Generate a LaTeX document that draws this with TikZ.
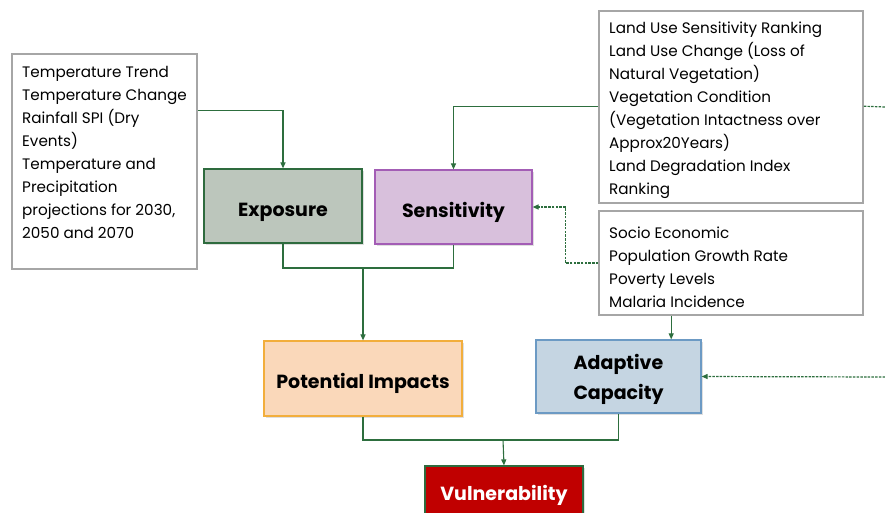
\documentclass[tikz,border=0pt]{standalone}
\usepackage{fontspec}
\setmainfont{Poppins}
\usetikzlibrary{arrows.meta,shadows}
\definecolor{lnk}{HTML}{2D6E3E}
\definecolor{boxgray}{HTML}{A6A6A6}
\definecolor{expfill}{HTML}{BCC6BC}
\definecolor{expdraw}{HTML}{2E6B3E}
\definecolor{sensfill}{HTML}{D8C0DC}
\definecolor{sensdraw}{HTML}{A35DB5}
\definecolor{potfill}{HTML}{FAD8BA}
\definecolor{potdraw}{HTML}{F2AE3C}
\definecolor{adapfill}{HTML}{C5D5E2}
\definecolor{adapdraw}{HTML}{6C9AC4}
\definecolor{vulfill}{HTML}{C00000}
\begin{document}
\begin{tikzpicture}[x=1pt,y=-1pt,
  infobox/.style={draw=boxgray, line width=1.6pt, fill=white, inner sep=0pt},
  infotext/.style={font=\fontsize{15.2}{23}\selectfont, align=left, anchor=north west, inner sep=0pt},
  keybox/.style={line width=1.2pt, font=\bfseries\fontsize{19}{30}\selectfont, align=center,
    drop shadow={opacity=0.25, shadow xshift=2pt, shadow yshift=-2pt}},
  oneline/.style={text height=20pt, text depth=0pt},
  link/.style={draw=lnk, line width=1.1pt, -{Triangle[length=6pt,width=5pt]}},
  plainlink/.style={draw=lnk, line width=1.1pt},
  dlink/.style={draw=lnk, line width=1.2pt, dash pattern=on 2.5pt off 1.2pt, -{Triangle[length=6pt,width=5pt]}},
  dplain/.style={draw=lnk, line width=1.2pt, dash pattern=on 2.5pt off 1.2pt}]
\useasboundingbox (0,0) rectangle (885,512);

% input boxes
\node[infobox, minimum width=185pt, minimum height=215pt] (clim) at (104.5,161.5) {};
\node[infotext] (climtext) at (22,66.5) {Temperature Trend\\Temperature Change\\Rainfall SPI (Dry\\Events)\\Temperature and\\Precipitation\\projections for 2030,\\2050 and 2070};

\node[infobox, minimum width=264pt, minimum height=192pt] (land) at (731,107) {};
\node[infotext] (landtext) at (609,22) {Land Use Sensitivity Ranking\\Land Use Change (Loss of\\Natural Vegetation)\\Vegetation Condition\\(Vegetation Intactness over\\Approx20Years)\\Land Degradation Index\\Ranking};

\node[infobox, minimum width=264pt, minimum height=104pt] (socio) at (731,263) {};
\node[infotext] (sociotext) at (609,227) {Socio Economic\\Population Growth Rate\\Poverty Levels\\Malaria Incidence};

% component boxes
\node[keybox, oneline, fill=expfill, draw=expdraw, minimum width=158pt, minimum height=74pt] (exp) at (283,206) {Exposure};
\node[keybox, oneline, fill=sensfill, draw=sensdraw, minimum width=157pt, minimum height=74pt] (sens) at (453.5,207) {Sensitivity};
\node[keybox, oneline, fill=potfill, draw=potdraw, minimum width=198pt, minimum height=75pt] (pot) at (363,378.5) {Potential Impacts};
\node[keybox, text depth=0pt, fill=adapfill, draw=adapdraw, minimum width=165pt, minimum height=73pt] (adap) at (618.5,376.5) {Adaptive\\Capacity};
\node[keybox, oneline, fill=vulfill, draw=expdraw, text=white, minimum width=158pt, minimum height=48pt] (vul) at (504,490) {Vulnerability};

% free ends and junctions
\coordinate (offA) at (885,107);
\coordinate (offB) at (885,377);
\coordinate (j1) at (363,268);
\coordinate (j2) at (503,440);

% connectors
\draw[link] ([yshift=-57pt]clim.north east) -| (exp.north);
\draw[link] ([yshift=-96pt]land.north west) -| (sens.north);
\draw[dplain] ([yshift=-96pt]land.north east) -- (offA);
\draw[dlink] (socio.west) -- ++(-33,0) |- (sens.east);
\draw[link] ([xshift=73pt]socio.south west) -- ([xshift=73pt]socio.south west |- adap.north);
\draw[dlink] (offB) -- (adap.east);

\draw[plainlink] (exp.south) |- (j1) -| (sens.south);
\draw[link] (j1) -- (pot.north);
\draw[plainlink] (pot.south) |- (j2) -| (adap.south);
\draw[link] (j2) -- (vul.north);
\end{tikzpicture}
\end{document}
